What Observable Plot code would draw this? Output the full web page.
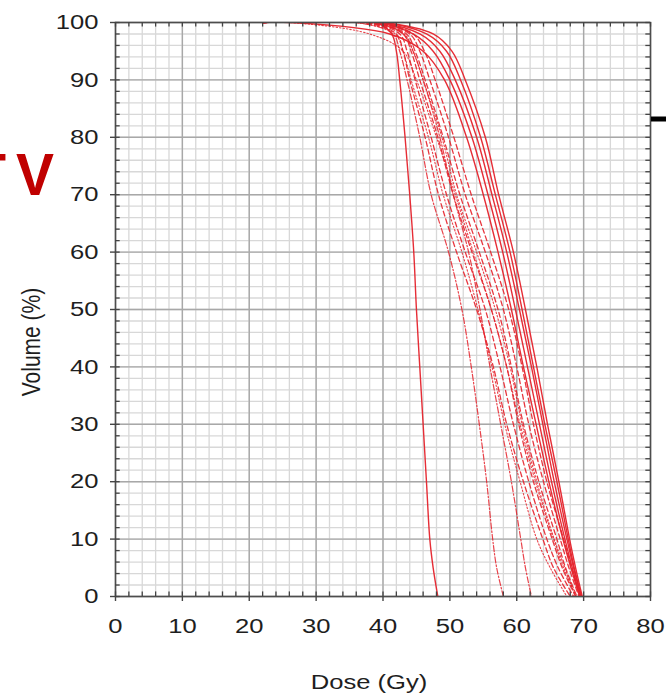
<!DOCTYPE html>
<html>
<head>
<meta charset="utf-8">
<script src="https://cdn.jsdelivr.net/npm/d3@7"></script>
<script src="https://cdn.jsdelivr.net/npm/@observablehq/plot@0.6"></script>
<style>
  html, body { margin: 0; padding: 0; background: #fff; }
  #wrap { position: relative; width: 666px; height: 696px; overflow: hidden; }
</style>
</head>
<body>
<div id="wrap"></div>
<script>
// ---- DATA ----
// volume levels (%) shared by all curves; each curve gives the dose (Gy) at these levels
const volumeLevels = [100, 100, 98, 95, 90, 80, 70, 60, 50, 40, 30, 20, 10, 5, 0];

const curveNames = ["S0", "A", "B", "R1", "R2", "R3", "R4", "R5",
                    "D1", "D2", "D3", "D4", "D5", "D6", "E1", "E2", "E3"];
const curveTypes = ["solid", "dashdot", "dashdot", "solid", "solid", "solid", "solid", "solid",
                    "dashed", "dashed", "dashed", "dashed", "dashed", "dashed", "dotted", "dotted", "dotted"];

const doseS0 = [22, 39.0, 41.3, 42.0, 42.5, 43.3, 44.0, 44.6, 45.0, 45.5, 46.0, 46.5, 47.0, 47.5, 48.2];
const doseA  = [22, 36.0, 41.5, 42.5, 43.6, 45.5, 47.2, 49.8, 51.8, 53.2, 54.4, 55.5, 56.4, 57.0, 58.0];
const doseB  = [22, 38.0, 43.0, 44.5, 46.0, 48.5, 50.5, 52.8, 54.5, 56.0, 57.6, 59.2, 60.6, 61.3, 62.2];
const doseR1 = [22, 40.0, 47.5, 50.3, 52.3, 55.3, 57.3, 59.5, 61.3, 63.0, 64.6, 66.3, 67.9, 68.8, 69.8];
const doseR2 = [22, 40.0, 46.5, 49.5, 51.6, 54.6, 56.8, 59.0, 60.8, 62.5, 64.2, 66.0, 67.7, 68.6, 69.7];
const doseR3 = [22, 39.5, 45.5, 48.5, 50.8, 54.0, 56.3, 58.5, 60.4, 62.2, 63.9, 65.6, 67.5, 68.5, 69.6];
const doseR4 = [22, 39.0, 44.5, 47.5, 50.0, 53.3, 55.7, 57.9, 59.8, 61.6, 63.4, 65.2, 67.2, 68.3, 69.5];
const doseR5 = [22, 26.0, 41.0, 46.0, 49.2, 52.5, 55.0, 57.2, 59.2, 61.0, 62.9, 64.8, 66.9, 68.1, 69.4];
const doseD1 = [22, 37.0, 42.0, 43.0, 44.0, 46.3, 48.3, 51.0, 54.0, 56.5, 58.5, 61.0, 63.9, 65.5, 68.0];
const doseD2 = [22, 37.5, 42.5, 43.6, 44.8, 47.2, 49.5, 52.3, 55.3, 57.5, 59.5, 61.8, 64.5, 66.2, 68.5];
const doseD3 = [22, 38.0, 43.0, 44.2, 45.5, 48.2, 50.5, 53.3, 56.2, 58.5, 60.3, 62.5, 65.3, 66.8, 68.8];
const doseD4 = [22, 38.0, 43.5, 44.8, 46.3, 49.0, 51.5, 54.4, 57.2, 59.2, 61.0, 63.3, 66.0, 67.3, 69.0];
const doseD5 = [22, 38.5, 44.0, 45.5, 47.0, 49.8, 52.3, 55.3, 58.0, 60.0, 61.8, 64.0, 66.5, 67.8, 69.3];
const doseD6 = [22, 39.0, 44.5, 46.2, 47.8, 50.6, 53.2, 56.1, 58.8, 60.8, 62.5, 64.5, 67.0, 68.2, 69.5];
const doseE1 = [22, 36.0, 41.8, 43.0, 44.2, 46.8, 49.0, 51.8, 54.2, 56.3, 58.2, 60.5, 63.0, 65.0, 67.5];
const doseE2 = [22, 38.0, 43.2, 44.5, 46.0, 48.8, 51.0, 54.0, 56.8, 59.0, 60.8, 63.0, 65.6, 67.2, 68.8];
const doseE3 = [22, 26.0, 38.0, 43.0, 45.0, 48.0, 50.8, 53.5, 56.2, 58.5, 60.5, 62.8, 65.5, 67.0, 68.9];

const xTickValues = [0, 10, 20, 30, 40, 50, 60, 70, 80];
const yTickValues = [0, 10, 20, 30, 40, 50, 60, 70, 80, 90, 100];
const xTitle = "Dose (Gy)";
const yTitle = "Volume (%)";
const sideLabelLeft = "PT";
const sideLabelRight = "V";

// ---- build the table ----
const doseTable = [doseS0, doseA, doseB, doseR1, doseR2, doseR3, doseR4, doseR5,
                   doseD1, doseD2, doseD3, doseD4, doseD5, doseD6, doseE1, doseE2, doseE3];
const rows = [];
curveNames.forEach((name, i) => {
  doseTable[i].forEach((dose, j) => {
    rows.push({curve: name, type: curveTypes[i], dose, volume: volumeLevels[j]});
  });
});

const minorX = d3.range(0, 81, 2);
const minorY = d3.range(0, 101, 2);
const RED = "#e5222b";
const FONT = "'Liberation Sans', Arial, sans-serif";

const styleByType = {
  solid:   {strokeWidth: 1.4, strokeDasharray: null, strokeOpacity: 0.95},
  dashed:  {strokeWidth: 1.3, strokeDasharray: "5,3", strokeOpacity: 0.9},
  dashdot: {strokeWidth: 1.2, strokeDasharray: "6,2,1.5,2", strokeOpacity: 0.85},
  dotted:  {strokeWidth: 1.1, strokeDasharray: "1.5,2", strokeOpacity: 0.85}
};

const lineMarks = ["dotted", "dashdot", "dashed", "solid"].map(t =>
  Plot.line(rows.filter(d => d.type === t), {
    x: "dose", y: "volume", z: "curve",
    stroke: RED, curve: "catmull-rom", clip: true,
    strokeWidth: styleByType[t].strokeWidth,
    strokeDasharray: styleByType[t].strokeDasharray,
    strokeOpacity: styleByType[t].strokeOpacity
  })
);

const chart = Plot.plot({
  width: 666,
  height: 696,
  marginLeft: 115,
  marginRight: 16,
  marginTop: 22,
  marginBottom: 100,
  x: {domain: [0, 80]},
  y: {domain: [0, 100]},
  style: {fontFamily: FONT, fontSize: "21px", color: "#1e1e1e", background: "#fff"},
  marks: [
    Plot.gridX(minorX, {stroke: "#d8d8d8", strokeOpacity: 1, strokeWidth: 1.3}),
    Plot.gridY(minorY, {stroke: "#d8d8d8", strokeOpacity: 1, strokeWidth: 1.3}),
    Plot.gridX(xTickValues, {stroke: "#a8a8a8", strokeOpacity: 1, strokeWidth: 1.4}),
    Plot.gridY(yTickValues, {stroke: "#a8a8a8", strokeOpacity: 1, strokeWidth: 1.4}),
    ...lineMarks,
    Plot.frame({stroke: "#4d4d4d", strokeWidth: 1.5}),
    // inward minor ticks on all four sides
    Plot.ruleX(minorX, {y1: 0, y2: 0.8, stroke: "#444", strokeWidth: 1.3}),
    Plot.ruleX(minorX, {y1: 100, y2: 99.2, stroke: "#444", strokeWidth: 1.3}),
    Plot.ruleY(minorY, {x1: 0, x2: 0.7, stroke: "#444", strokeWidth: 1.3}),
    Plot.ruleY(minorY, {x1: 80, x2: 79.3, stroke: "#444", strokeWidth: 1.3}),
    Plot.axisX(xTickValues, {tickSize: 5, tickPadding: 17, label: null, stroke: "#444", strokeWidth: 1.4, fontSize: 21, fill: "#1e1e1e"}),
    Plot.axisY(yTickValues, {tickSize: 5, tickPadding: 12, label: null, stroke: "#444", strokeWidth: 1.4, fontSize: 21, fill: "#1e1e1e"})
  ]
});

document.getElementById("wrap").appendChild(chart);

// horizontally stretched tick labels like the reference (scale about each label's anchor)
function stretch(sel, anchor) {
  chart.querySelectorAll(sel).forEach(t => {
    const bb = t.getBBox();
    const cx = anchor === "end" ? bb.x + bb.width : bb.x + bb.width / 2;
    const tr = t.getAttribute("transform") || "";
    t.setAttribute("transform", `${tr} translate(${cx},0) scale(1.22,1) translate(${-cx},0)`);
  });
}
stretch('g[aria-label="x-axis tick label"] text', "middle");
stretch('g[aria-label="y-axis tick label"] text', "end");

const svg = d3.select(chart);
svg.append("text")
  .attr("transform", "translate(369,689) scale(1.22,1)")
  .attr("text-anchor", "middle")
  .attr("font-family", FONT)
  .attr("font-size", 21).attr("fill", "#1e1e1e")
  .text(xTitle);
svg.append("text")
  .attr("transform", "translate(40,342) scale(1.22,1) rotate(-90)")
  .attr("text-anchor", "middle")
  .attr("font-family", FONT)
  .attr("font-size", 21).attr("fill", "#1e1e1e")
  .text(yTitle);
svg.append("text")
  .attr("transform", "translate(6,195) scale(0.95,1)")
  .attr("text-anchor", "end")
  .attr("font-family", FONT)
  .attr("font-weight", "bold")
  .attr("font-size", 60).attr("fill", "#c00000")
  .text(sideLabelLeft);
svg.append("text")
  .attr("transform", "translate(54,195) scale(0.95,1)")
  .attr("text-anchor", "end")
  .attr("font-family", FONT)
  .attr("font-weight", "bold")
  .attr("font-size", 60).attr("fill", "#c00000")
  .text(sideLabelRight);
svg.append("line")
  .attr("x1", 651).attr("x2", 666).attr("y1", 119).attr("y2", 119)
  .attr("stroke", "#000").attr("stroke-width", 5);
</script>
</body>
</html>
